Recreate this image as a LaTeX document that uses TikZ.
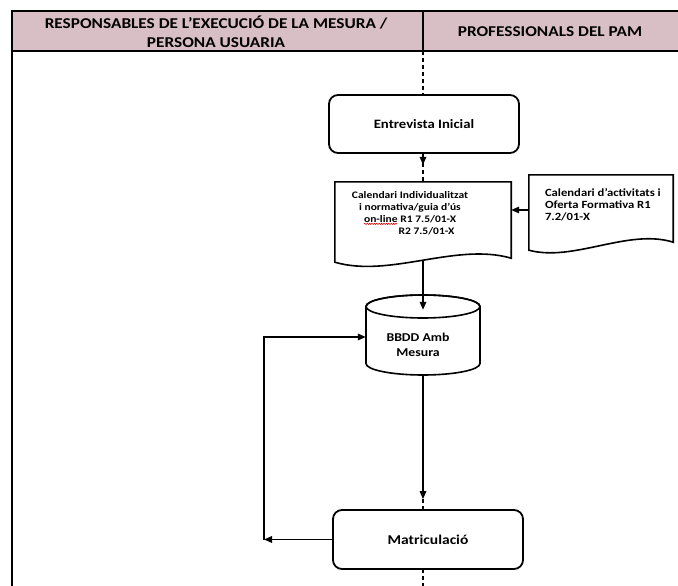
\documentclass[tikz,border=0pt]{standalone}
\usepackage{fontspec}
\setmainfont[FakeStretch=1.15]{Carlito}
\usetikzlibrary{arrows.meta,calc,decorations.pathmorphing}
\definecolor{hdr}{RGB}{216,190,197}
\newcommand{\redwave}[1]{\tikz[baseline=(rw.base),x=1pt,y=1pt]{\node[inner sep=0pt,outer sep=0pt](rw){#1};\draw[red!85!black,line width=0.6pt,decorate,decoration={snake,amplitude=0.6pt,segment length=2.4pt}] ([yshift=-1.5pt]rw.south west) -- ([yshift=-1.5pt]rw.south east);}}
\begin{document}
\begin{tikzpicture}[x=1pt,y=-1pt,
  frame/.style={line width=1.6pt,black},
  lanediv/.style={line width=1.6pt,dash pattern=on 4pt off 3pt},
  hdrtext/.style={font=\bfseries\fontsize{15}{19}\selectfont,align=center,inner sep=0pt},
  rbox/.style={draw,line width=1.8pt,rounded corners=9pt,fill=white,font=\bfseries\fontsize{12.8}{15}\selectfont,inner sep=0pt},
  docline/.style={draw,line width=1.6pt,fill=white},
  doctext/.style={font=\bfseries\fontsize{10}{12}\selectfont,inner sep=0pt},
  plain/.style={inner sep=0pt},
  arr/.style={line width=1.6pt,-{Triangle[length=8pt,width=6.5pt]}},
  link/.style={line width=1.6pt}
]
\useasboundingbox (0,0) rectangle (678,586);
% table frame
\fill[hdr] (12,11) rectangle (678,51);
\draw[frame] (678,11) -- (12,11) -- (12,586);
\draw[frame] (12,51) -- (678,51);
\draw[frame] (423,11) -- (423,51);
\draw[lanediv] (423,51) -- (423,586);
\node[hdrtext] (h1) at (216,32) {RESPONSABLES DE L’EXECUCIÓ DE LA MESURA /\\PERSONA USUARIA};
\node[hdrtext] (h2) at (550,32) {PROFESSIONALS DEL PAM};

% Entrevista inicial
\node[rbox,minimum width=190pt,minimum height=58pt] (ent) at (424,124) {Entrevista Inicial};

% Calendari individualitzat (document)
\node[plain,minimum width=176pt,minimum height=80pt] (cal) at (423,222) {};
\path[docline] (cal.south west) -- (cal.north west) -- (cal.north east) -- ($(cal.south east)+(0,-4)$)
  .. controls +(-55,-16) and +(55,16) .. (cal.south west) -- cycle;
\node[doctext,align=center] (caltxt) at ($(cal.center)+(-13,-9)$)
  {Calendari Individualitzat\\i normativa/guia d’ús\\\redwave{on-line} R1 7.5/01-X\\\hspace*{33pt}R2 7.5/01-X};

% Calendari d'activitats (document)
\node[plain,minimum width=144pt,minimum height=75pt] (ofe) at (601,212.5) {};
\path[docline] (ofe.south west) -- (ofe.north west) -- (ofe.north east) -- ($(ofe.south east)+(0,-8)$)
  .. controls +(-45,-14) and +(45,12) .. (ofe.south west) -- cycle;
\node[doctext,align=left,anchor=west,font=\bfseries\fontsize{11}{12}\selectfont] (ofetxt) at ($(ofe.west)+(16,-7.5)$)
  {Calendari d’activitats i\\Oferta Formativa R1\\7.2/01-X};

% BBDD cylinder
\node[plain,minimum width=114pt,minimum height=80pt] (db) at (423,335) {};
\begin{scope}[shift={(db.center)}]
  \filldraw[line width=1.6pt,fill=white] (-57,-28.5) -- (-57,28.5)
     arc[start angle=180,end angle=0,x radius=57,y radius=11.5] -- (57,-28.5)
     arc[start angle=0,end angle=-180,x radius=57,y radius=11.5] -- cycle;
  \draw[line width=1.6pt] (0,-28.5) ellipse [x radius=57,y radius=11.5];
\end{scope}
\node[font=\bfseries\fontsize{12}{15}\selectfont,align=center,inner sep=0pt] (dbtxt) at ($(db.center)+(-5,10)$) {BBDD Amb\\Mesura};
\coordinate (dbin) at ($(db.north)+(0,15)$);

% Matriculacio
\node[rbox,minimum width=190pt,minimum height=59pt,font=\bfseries\fontsize{13.5}{15}\selectfont] (matr) at (428,539.5) {Matriculació};

% connectors
\draw[arr,shorten >=17pt] (cal.north |- ent.south) -- (cal.north);
\draw[arr] ($(ofe.west)+(0,-2.5)$) -- ($(cal.east)+(0,-12)$);
\draw[arr] (cal.south) -- (dbin);
\draw[arr,shorten >=10pt] (db.south) -- (db.south |- matr.north);
\coordinate (lp) at (264,539.5);
\draw[arr] (matr.west) -- (lp);
\draw[arr] (lp) |- ($(db.west)+(0,2)$);
\end{tikzpicture}
\end{document}
